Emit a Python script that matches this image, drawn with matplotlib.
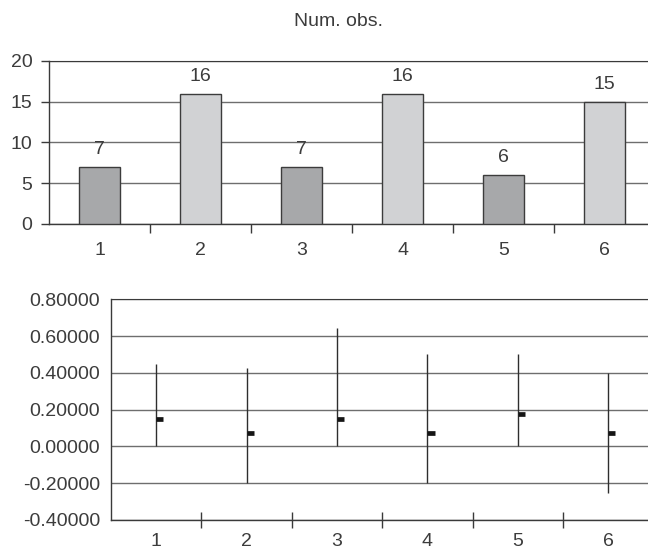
import matplotlib
matplotlib.use("Agg")
import matplotlib.pyplot as plt
import numpy as np

# data
groups = [1, 2, 3, 4, 5, 6]
num_obs = [7, 16, 7, 16, 6, 15]
bar_colors = ['#a7a8aa', '#d1d2d4', '#a7a8aa', '#d1d2d4', '#a7a8aa', '#d1d2d4']
high = [0.447, 0.425, 0.642, 0.503, 0.503, 0.398]
low = [0.0, -0.2, 0.0, -0.2, 0.0, -0.254]
close = [0.148, 0.072, 0.148, 0.072, 0.175, 0.072]
y2_ticks = [-0.4, -0.2, 0.0, 0.2, 0.4, 0.6, 0.8]

plt.rcParams['font.family'] = ['Liberation Sans', 'DejaVu Sans']
text_col = '#3c3c3c'
grid_col = '#6e6e6e'
axis_col = '#3a3a3a'

W, H = 648, 550
fig = plt.figure(figsize=(W / 100, H / 100), dpi=100)

fig.text(339 / W, 1 - 26 / H, 'Num. obs.', ha='center', va='baseline',
         fontsize=14, color=text_col)

# --- top: bar chart of number of observations
ax1 = fig.add_axes([49 / W, 1 - 223.7 / H, (W - 49) / W, (223.7 - 61) / H])
ax1.bar(groups, num_obs, width=0.41, color=bar_colors, edgecolor='#3c3c3c',
        linewidth=1.0, zorder=3)
for g, v in zip(groups, num_obs):
    ax1.annotate(str(v), (g, v), xytext=(0, 9), textcoords='offset points',
                 ha='center', va='baseline', fontsize=14, color=text_col)
ax1.set_xlim(0.5, 6.43)
ax1.set_ylim(0, 20)
ax1.set_yticks([0, 5, 10, 15, 20])
ax1.set_xticks(groups)
ax1.set_xticks([1.5, 2.5, 3.5, 4.5, 5.5], minor=True)
ax1.yaxis.grid(True, color=grid_col, linewidth=1.0, zorder=0)
ax1.set_axisbelow(True)
ax1.tick_params(axis='x', which='major', length=0, pad=13, labelsize=14,
                labelcolor=text_col)
ax1.tick_params(axis='x', which='minor', direction='out', length=6.5,
                width=1, color=axis_col)
ax1.tick_params(axis='y', direction='out', length=6, width=1, color=axis_col,
                pad=6, labelsize=14, labelcolor=text_col)
ax1.spines['right'].set_visible(False)
ax1.spines['top'].set_color(axis_col)
for s in ['left', 'bottom']:
    ax1.spines[s].set_color(axis_col)
    ax1.spines[s].set_linewidth(1.0)

# --- bottom: high-low-close chart
ax2 = fig.add_axes([111 / W, 1 - 520 / H, (W - 111) / W, (520 - 299.3) / H])
ax2.vlines(groups, low, high, colors='#2e2e2e', linewidth=1.0, zorder=3)
ax2.hlines(close, np.array(groups), np.array(groups) + 0.08,
           colors='#151515', linewidth=3.4, zorder=4)
ax2.set_xlim(0.5, 6.44)
ax2.set_ylim(-0.4, 0.8)
ax2.set_yticks(y2_ticks)
ax2.set_yticklabels([f'{v:.5f}' for v in y2_ticks])
ax2.set_xticks(groups)
ax2.set_xticks([1.5, 2.5, 3.5, 4.5, 5.5], minor=True)
ax2.yaxis.grid(True, color=grid_col, linewidth=1.0, zorder=0)
ax2.set_axisbelow(True)
ax2.tick_params(axis='x', which='major', length=0, pad=9.5, labelsize=14,
                labelcolor=text_col)
ax2.tick_params(axis='x', which='minor', direction='inout', length=11.5,
                width=1, color=axis_col)
ax2.tick_params(axis='y', length=0, pad=8, labelsize=14, labelcolor=text_col)
ax2.spines['right'].set_visible(False)
ax2.spines['top'].set_color(axis_col)
for s in ['left', 'bottom']:
    ax2.spines[s].set_color(axis_col)
    ax2.spines[s].set_linewidth(1.0)

fig.savefig('out.png', dpi=100)
